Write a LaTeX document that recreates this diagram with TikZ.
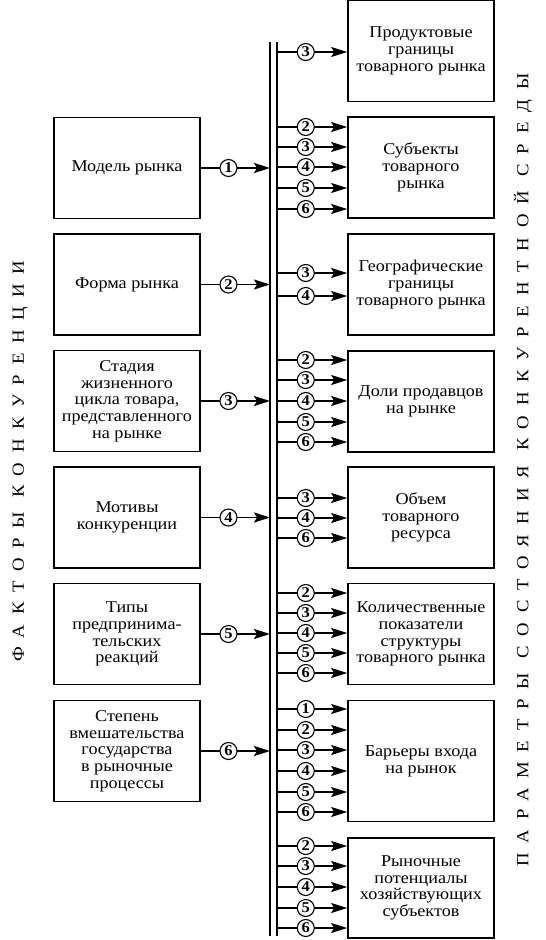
\documentclass[tikz,border=0pt]{standalone}
\usepackage{fontspec}
\setmainfont{Liberation Serif}[FakeStretch=1.1]
\usetikzlibrary{arrows.meta}

\begin{document}
\begin{tikzpicture}[x=1pt,y=-1pt,
	box/.style={draw,line width=1.7pt,minimum width=146pt,minimum height=101pt,inner sep=2pt,align=center,font=\fontsize{16.5}{16.7}\selectfont},
	num/.style={draw,circle,fill=white,line width=1.1pt,inner sep=0pt,minimum size=17pt,font=\fontsize{15}{15}\selectfont\bfseries},
	arr/.style={line width=1.7pt,-{Stealth[length=16pt,width=10pt,inset=3pt]}},
	bus/.style={line width=1.7pt},
	side/.style={rotate=90,font=\fontsize{17}{17}\selectfont}]

  \useasboundingbox (0,0) rectangle (546,940);

  % bus
  \coordinate (bt) at (270,42);
  \coordinate (bb) at (270,936);
  \draw[bus] (bt) -- (bb);
  \draw[bus] ([xshift=7pt]bt) -- ([xshift=7pt]bb);

  % factors
  \foreach \n/\y/\t in {1/168/{Модель рынка},
  	2/284.5/{Форма рынка},
  	3/401/{Стадия\\жизненного\\цикла товара,\\представленного\\на рынке},
  	4/517.5/{Мотивы\\конкуренции},
  	5/634/{Типы\\предпринима-\\тельских\\реакций},
  	6/751/{Степень\\вмешательства\\государства\\в рыночные\\процессы}}{
  	 \node[box] (f\n) at (127,\y) {\t};
  	 \coordinate (in\n) at (270,\y);
  	 \draw[arr] (f\n) -- (in\n) node[num,pos=0.4]{\n};
  	 }

  % parameters
  \foreach \n/\y/\h/\t/\a in {1/51/101/{Продуктовые\\границы\\товарного рынка}/{3/52},
  	2/167.5/101/{Субъекты\\товарного\\рынка}/{2/127,3/147,4/167,5/188,6/209},
  	3/284.5/101/{Географические\\границы\\товарного рынка}/{3/273,4/296},
  	4/401.5/101/{Доли продавцов\\на рынке}/{2/360,3/380,4/401,5/422,6/442},
  	5/517.5/101/{Объем\\товарного\\ресурса}/{3/498,4/518,6/538},
  	6/634/101/{Количественные\\показатели\\структуры\\товарного рынка}/{2/593,3/613,4/633,5/653,6/673},
  	7/761/121/{Барьеры входа\\на рынок}/{1/709,2/730,3/750,4/771,5/792,6/812},
  	8/888/100/{Рыночные\\потенциалы\\хозяйствующих\\субъектов}/{2/846,3/866,4/887,5/908,6/928}}{
  	 \node[box,minimum height=\h pt] (p\n) at (421,\y) {\t};
  	 \foreach \k/\v in \a {
  	  \coordinate (out\n\k) at (277,\v);
  	  \draw[arr] (out\n\k) -- (out\n\k -| p\n.west) node[num,pos=0.41]{\k};
  	  }
  	 }

  \node[side] (lf) at (20,461) {\addfontfeature{LetterSpace=57}ФАКТОРЫ КОНКУРЕНЦИИ};
  \node[side] (rp) at (523,470) {\addfontfeature{LetterSpace=58}ПАРАМЕТРЫ СОСТОЯНИЯ КОНКУРЕНТНОЙ СРЕДЫ};
\end{tikzpicture}
\end{document}
